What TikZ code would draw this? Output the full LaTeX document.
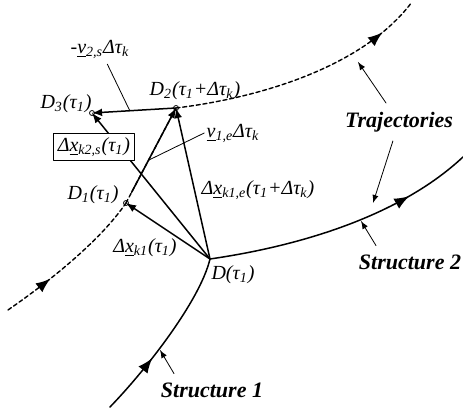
\documentclass[tikz,border=0pt]{standalone}
\usepackage{fontspec}
\setmainfont{Liberation Serif}
\usetikzlibrary{calc,decorations.markings}
\newcommand{\uvec}[1]{\underline{#1}}
\begin{document}
\begin{tikzpicture}[x=0.5pt,y=0.5pt,line cap=round,line join=round,>=latex,
  vec/.style={line width=0.75pt,-latex},
  curv/.style={line width=0.75pt},
  traj/.style={line width=0.7pt,dash pattern=on 2pt off 1.4pt},
  arrowat/.style={postaction={decorate},
    decoration={markings,mark=at position #1 with {\arrow[scale=1.5]{latex}}}},
  lead/.style={line width=0.4pt},
  leadarrow/.style={line width=0.4pt,-latex},
  lbl/.style={font=\fontsize{10}{12}\selectfont\itshape,inner sep=1pt},
  word/.style={font=\fontsize{11}{13}\selectfont\bfseries\itshape,inner sep=1.5pt,outer sep=3pt},
  pt/.style={circle,draw,line width=0.4pt,inner sep=0pt,minimum size=2.5pt}]
  \useasboundingbox (0,0) rectangle (463,411);
  % points
  \coordinate (D) at (210,152);
  \coordinate (D1) at (126,208);
  \coordinate (D2) at (176,303);
  \coordinate (D3) at (92,298);
  % trajectories and structures
  \draw[traj,arrowat=0.33] (8,101) .. controls (50,130) and (100,170) .. (D1);
  \draw[traj] (D1) -- (D2);
  \draw[traj,arrowat=0.84] (D2) .. controls (250,312) and (360,340) .. (412,409);
  \draw[curv,arrowat=0.36] (110,4) .. controls (145,40) and (200,110) .. (D);
  \draw[curv,arrowat=0.76] (D) .. controls (300,165) and (400,195) .. (463,254);
  % vectors
  \draw[vec] (D) -- (D1);
  \draw[vec] (D) -- (D2);
  \draw[vec] (D) -- (D3);
  \draw[vec,shorten <=6pt] (D1) -- (D2);
  \draw[vec] (D2) -- (D3);
  \node[pt] at (D1) {};
  \node[pt] at (D2) {};
  \node[pt] at (D3) {};
  % labels
  \node[lbl] (lblD) at (233,136) {D(τ\textsubscript{1})};
  \node[lbl] (lblD1) at (93,216) {D\textsubscript{1}(τ\textsubscript{1})};
  \node[lbl] (lblD2) at (195,320) {D\textsubscript{2}(τ\textsubscript{1}+Δτ\textsubscript{k})};
  \node[lbl] (lblD3) at (66,307) {D\textsubscript{3}(τ\textsubscript{1})};
  \node[lbl,outer sep=2pt] (lblVm) at (100,362) {-\uvec{v}\textsubscript{2,s}Δτ\textsubscript{k}};
  \node[lbl,draw,fill=white,line width=0.5pt,inner sep=2pt] (lblBox) at (94,264)
    {Δ\uvec{x}\textsubscript{k2,s}(τ\textsubscript{1})};
  \node[lbl] (lblV1) at (233,278) {\uvec{v}\textsubscript{1,e}Δτ\textsubscript{k}};
  \node[lbl] (lblXe) at (258,221) {Δ\uvec{x}\textsubscript{k1,e}(τ\textsubscript{1}+Δτ\textsubscript{k})};
  \node[lbl] (lblX1) at (145,163) {Δ\uvec{x}\textsubscript{k1}(τ\textsubscript{1})};
  \node[word] (trajtxt) at (399,289) {Trajectories};
  \node[word] (struct2) at (410,149) {Structure 2};
  \node[word] (struct1) at (212,21) {Structure 1};
  % leaders
  \coordinate (vmpt) at ($(D2)!0.55!(D3)$);
  \coordinate (v1pt) at ($(D1)!0.45!(D2)$);
  \coordinate (trajup) at (358,349);
  \coordinate (trajdn) at (373,208);
  \coordinate (s2pt) at (361,190);
  \coordinate (s1pt) at (160,61);
  \draw[lead] (lblVm) -- (vmpt);
  \draw[lead] (lblV1.west) -- (v1pt);
  \draw[leadarrow] (trajtxt) -- (trajup);
  \draw[leadarrow] (trajtxt) -- (trajdn);
  \draw[leadarrow] ([xshift=-17pt]struct2.north) -- (s2pt);
  \draw[leadarrow] ([xshift=-19pt]struct1.north) -- (s1pt);
\end{tikzpicture}
\end{document}
